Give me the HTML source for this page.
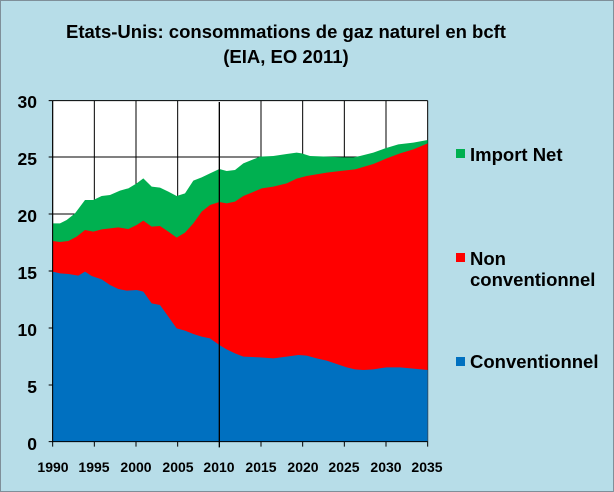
<!DOCTYPE html>
<html><head><style>
body{margin:0;background:#b7dde8;}
svg{display:block;font-family:"Liberation Sans",Arial,sans-serif;font-weight:bold;}
</style></head><body>
<svg width="614" height="492" viewBox="0 0 614 492">
<rect x="0.5" y="0.5" width="613" height="491" fill="#b7dde8" stroke="#7f8f99"/>
<text x="286" y="38" font-size="18.5" text-anchor="middle">Etats-Unis: consommations de gaz naturel en bcft</text>
<text x="286" y="63" font-size="18.5" text-anchor="middle">(EIA, EO 2011)</text>
<rect x="52.7" y="100.7" width="375" height="341" fill="#fff"/>
<g transform="translate(40,90) scale(0.3333333)">
<g stroke="#000" stroke-width="3" fill="none">
<path d="M38 32H1163M38 201H1163M38 372H1163M38 543H1163M38 714H1163M38 885H1163"/>
<path d="M38 32V1055M163 32V1055M288 32V1055M413 32V1055M663 32V1055M788 32V1055M913 32V1055M1038 32V1055M1163 32V1055"/>
</g>
<path fill="#00b050" d="M38 400L60 400L80 390L105 370L135 330L160 330L185 318L210 315L240 302L265 295L290 280L310 265L335 290L360 293L385 305L410 318L435 310L460 272L485 262L510 250L538 237L560 243L585 240L610 220L635 210L660 200L700 198L740 192L770 188L785 190L810 198L860 200L910 202L940 202L960 198L1000 188L1035 175L1075 163L1120 158L1163 150L1163 1055L38 1055Z"/>
<path fill="#ff0000" d="M38 453L60 456L85 453L110 440L135 420L160 425L185 418L235 412L265 417L290 405L310 392L335 410L360 408L385 425L410 443L435 428L460 400L485 365L510 345L538 336L560 340L585 335L610 318L635 308L665 295L700 290L740 280L770 266L800 258L860 248L910 242L945 238L1000 222L1040 205L1080 190L1120 178L1163 160L1163 1055L38 1055Z"/>
<path fill="#0070c0" d="M38 545L60 550L85 552L115 557L135 545L155 558L185 568L210 585L235 597L260 602L290 600L310 605L335 640L360 645L385 680L410 715L435 722L460 732L485 740L510 745L538 765L560 778L585 790L610 800L660 802L700 805L740 800L775 795L800 797L830 805L860 812L890 822L920 832L945 838L970 840L1000 838L1040 832L1080 832L1120 836L1163 840L1163 1055L38 1055Z"/>
<g stroke="#000" stroke-width="3" fill="none">
<path d="M38 32V1055H1163"/>
<path d="M26 32H38M26 201H38M26 372H38M26 543H38M26 714H38M26 885H38M26 1055H38"/>
<path d="M38 1055V1070M163 1055V1070M288 1055V1070M413 1055V1070M663 1055V1070M788 1055V1070M913 1055V1070M1038 1055V1070M1163 1055V1070"/>
<path d="M538 36V1072" stroke-width="4"/>
</g>
</g>
<g font-size="17.5" text-anchor="end">
<text x="37" y="108">30</text><text x="37" y="165">25</text><text x="37" y="222">20</text><text x="37" y="279">15</text><text x="37" y="336">10</text><text x="37" y="393">5</text><text x="37" y="450">0</text>
</g>
<g font-size="14" text-anchor="middle">
<text x="53" y="472">1990</text><text x="94" y="472">1995</text><text x="136" y="472">2000</text><text x="178" y="472">2005</text><text x="219" y="472">2010</text><text x="261" y="472">2015</text><text x="303" y="472">2020</text><text x="344" y="472">2025</text><text x="386" y="472">2030</text><text x="427" y="472">2035</text>
</g>
<rect x="456" y="149" width="9" height="9" fill="#00b050"/>
<rect x="456" y="253" width="9" height="9" fill="#ff0000"/>
<rect x="456" y="357" width="9" height="9" fill="#0070c0"/>
<g font-size="18.5">
<text x="470" y="161">Import Net</text>
<text x="470" y="265">Non</text>
<text x="470" y="286">conventionnel</text>
<text x="470" y="368">Conventionnel</text>
</g>
</svg>
</body></html>
